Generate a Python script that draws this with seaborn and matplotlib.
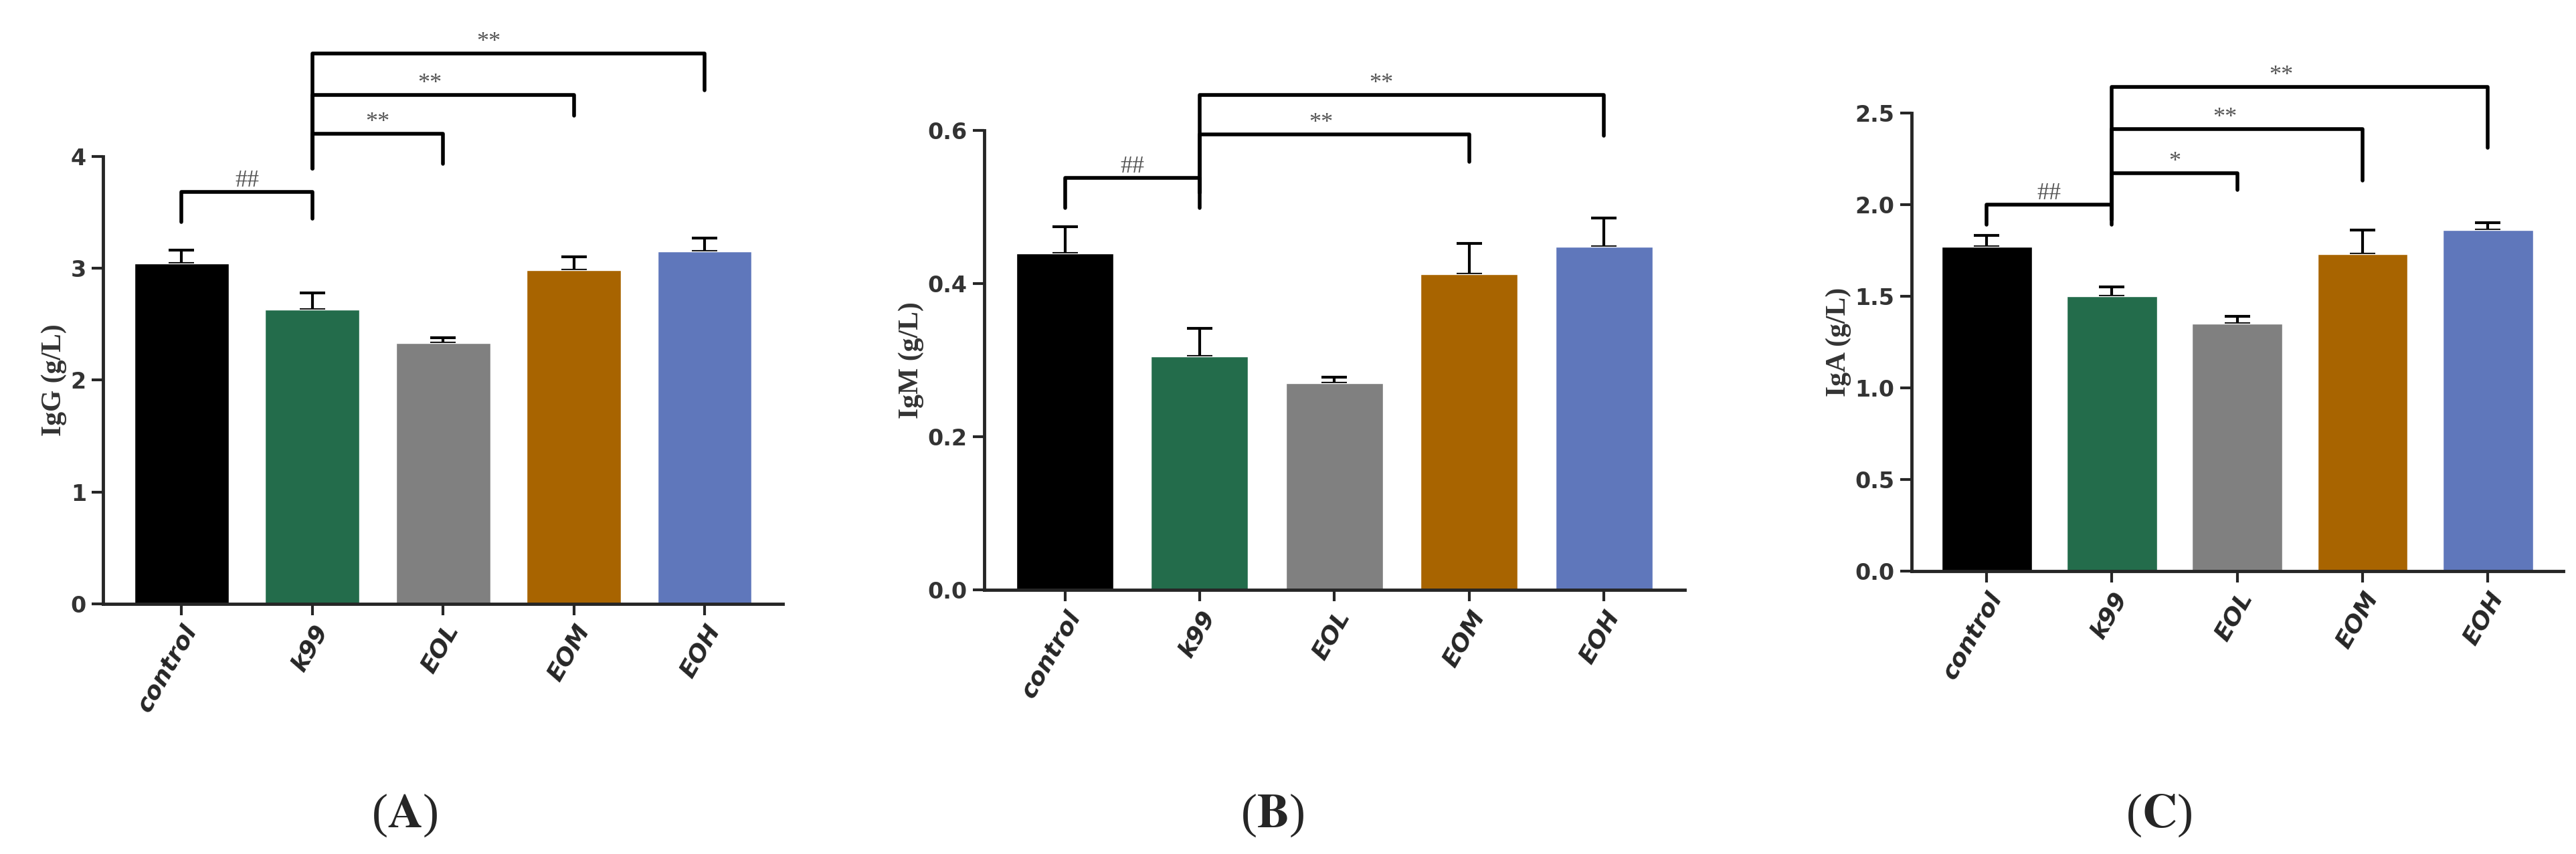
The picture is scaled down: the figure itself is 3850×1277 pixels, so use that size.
import pandas as pd
import seaborn as sns
import matplotlib.pyplot as plt

sns.set_theme(style="ticks")
plt.rcParams["mathtext.fontset"] = "stix"

GROUPS = ["control", "k99", "EOL", "EOM", "EOH"]
COLORS = ["#000000", "#236c4b", "#808080", "#a86400", "#5f77bb"]

IGG = [3.04, 2.63, 2.33, 2.98, 3.15]
IGG_SEM = [0.12, 0.15, 0.05, 0.12, 0.12]
IGM = [0.44, 0.305, 0.27, 0.413, 0.448]
IGM_SEM = [0.035, 0.037, 0.008, 0.04, 0.038]
IGA = [1.77, 1.50, 1.35, 1.73, 1.86]
IGA_SEM = [0.06, 0.05, 0.04, 0.13, 0.04]

# brackets: (i, j, top, left drop, right drop, label)
IGG_SIG = [(0, 1, 3.68, 3.41, 3.44, "##"), (1, 2, 4.2, 3.89, 3.93, "**"),
           (1, 3, 4.55, 3.89, 4.36, "**"), (1, 4, 4.92, 3.89, 4.59, "**")]
IGM_SIG = [(0, 1, 0.538, 0.499, 0.499, "##"), (1, 3, 0.595, 0.519, 0.559, "**"),
           (1, 4, 0.647, 0.519, 0.593, "**")]
IGA_SIG = [(0, 1, 2.0, 1.89, 1.89, "##"), (1, 2, 2.17, 1.92, 2.08, "*"),
           (1, 3, 2.41, 1.92, 2.13, "**"), (1, 4, 2.64, 1.92, 2.31, "**")]

PANELS = [
    ("IgG (g/L)", IGG, IGG_SEM, IGG_SIG, 4, [0, 1, 2, 3, 4], "{:.0f}",
     [0.040, 0.293, 0.264, 0.524], "A", 0.157),
    ("IgM (g/L)", IGM, IGM_SEM, IGM_SIG, 0.6, [0, 0.2, 0.4, 0.6], "{:.1f}",
     [0.382, 0.309, 0.272, 0.538], "B", 0.494),
    ("IgA (g/L)", IGA, IGA_SEM, IGA_SIG, 2.5, [0, 0.5, 1.0, 1.5, 2.0, 2.5], "{:.1f}",
     [0.742, 0.331, 0.253, 0.537], "C", 0.838),
]

fig = plt.figure(figsize=(38.5, 12.77), dpi=100)

for ylabel, vals, sem, sigs, ymax, yt, fmt, rect, tag, tx in PANELS:
    ax = fig.add_axes(rect)
    df = pd.DataFrame({"group": GROUPS, "value": vals})
    sns.barplot(data=df, x="group", y="value", hue="group", palette=COLORS,
                saturation=1, legend=False, errorbar=None, width=0.72, ax=ax,
                zorder=2)
    ax.errorbar(range(5), vals, yerr=[[0] * 5, sem], fmt="none", ecolor="black",
                elinewidth=3, capsize=14, capthick=3, zorder=1)
    ax.set_ylim(0, ymax)
    ax.set_xlim(-0.6, 4.6)
    ax.set_yticks(yt)
    ax.set_yticklabels([fmt.format(v) for v in yt], fontsize=24,
                       fontweight="bold", color="#333333")
    ax.set_xticks(range(5))
    ax.set_xticklabels(GROUPS, rotation=60, ha="right", rotation_mode="anchor",
                       fontsize=26, fontweight="bold", style="italic")
    ax.set_xlabel("")
    ax.set_ylabel(ylabel, family="Liberation Serif", fontsize=30,
                  fontweight="bold", color="#333333")
    sns.despine(ax=ax)
    for s in ["left", "bottom"]:
        ax.spines[s].set_linewidth(3.5)
    ax.tick_params(width=3, length=12, pad=6)
    for i, j, top, dl, dr, lab in sigs:
        ax.plot([i, i, j, j], [dl, top, top, dr], color="black", lw=4,
                clip_on=False)
        ax.text((i + j) / 2 if j - i == 1 else i + (j - i) * 0.45, top, lab,
                ha="center", va="bottom", fontsize=26, color="#555555",
                family="Liberation Serif", clip_on=False)
    fig.text(tx, 0.045, r"($\mathbf{%s}$)" % tag, ha="center", va="center",
             fontsize=52, family="Liberation Serif")

fig.savefig("out.png", dpi=100)
